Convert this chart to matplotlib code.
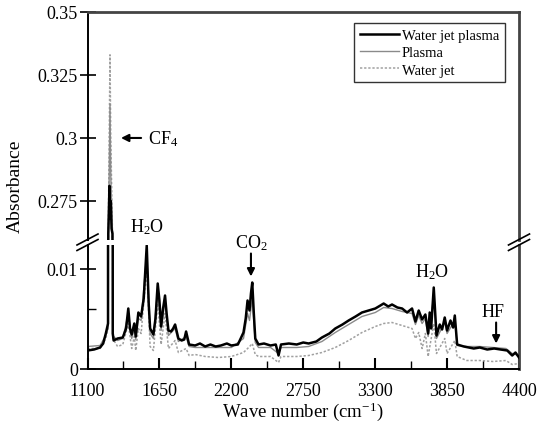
import matplotlib
matplotlib.use("Agg")
import matplotlib.pyplot as plt
from matplotlib.lines import Line2D

plt.rcParams['font.family'] = ['Liberation Serif', 'DejaVu Serif']
plt.rcParams['mathtext.fontset'] = 'custom'
plt.rcParams['mathtext.rm'] = 'Liberation Serif'
plt.rcParams['mathtext.it'] = 'Liberation Serif:italic'

# Water jet plasma (black)
wn_wjp = [1100, 1150, 1196, 1220, 1240, 1252, 1257, 1259, 1263, 1268, 1272, 1278, 1284, 1291,
          1293, 1300, 1330, 1370, 1395, 1412, 1425, 1438, 1458, 1469, 1489, 1510, 1530, 1553,
          1568, 1579, 1604, 1620, 1637, 1650, 1663, 1678, 1693, 1705, 1719, 1739, 1755, 1770,
          1795, 1820, 1840, 1854, 1877, 1923, 1960, 2000, 2040, 2080, 2120, 2166, 2200, 2250,
          2293, 2310, 2324, 2339, 2350, 2360, 2372, 2383, 2408, 2450, 2500, 2540, 2561, 2580,
          2640, 2700, 2750, 2791, 2850, 2893, 2950, 2995, 3050, 3097, 3150, 3199, 3250, 3301,
          3340, 3365, 3400, 3429, 3470, 3506, 3544, 3582, 3608, 3633, 3659, 3684, 3705, 3717,
          3728, 3748, 3769, 3794, 3812, 3832, 3850, 3876, 3896, 3909, 3927, 3978, 4054, 4100,
          4157, 4210, 4259, 4310, 4348, 4373, 4400]
abs_wjp = [0.0018, 0.0019, 0.0021, 0.0025, 0.0035, 0.0042, 0.0045, 0.262, 0.270, 0.281, 0.268, 0.275, 0.264, 0.262,
           0.0035, 0.0028, 0.0030, 0.0031, 0.0040, 0.0060, 0.0040, 0.0034, 0.0045, 0.0032, 0.0056, 0.0052, 0.0070, 0.0123,
           0.0065, 0.0040, 0.0034, 0.0050, 0.0085, 0.0068, 0.0042, 0.0060, 0.0073, 0.0055, 0.0038, 0.0037, 0.0040, 0.0044,
           0.0030, 0.0028, 0.0029, 0.0037, 0.0024, 0.0023, 0.0025, 0.0022, 0.0024, 0.0022, 0.0023, 0.0025, 0.0023, 0.0024,
           0.0036, 0.0050, 0.0068, 0.0058, 0.0075, 0.0086, 0.0055, 0.0030, 0.0024, 0.0025, 0.0023, 0.0024, 0.0013, 0.0024,
           0.0025, 0.0024, 0.0026, 0.0025, 0.0027, 0.0031, 0.0035, 0.0040, 0.0044, 0.0048, 0.0052, 0.0056, 0.0058, 0.0060,
           0.0063, 0.0065, 0.0062, 0.0064, 0.0061, 0.0060, 0.0056, 0.0060, 0.0047, 0.0058, 0.0049, 0.0054, 0.0035, 0.0056,
           0.0040, 0.0081, 0.0033, 0.0044, 0.0039, 0.0051, 0.0038, 0.0048, 0.0041, 0.0053, 0.0024, 0.0022, 0.0020, 0.0021,
           0.0019, 0.0020, 0.0019, 0.0018, 0.0013, 0.0016, 0.0011]

# Plasma (grey)
wn_pl = [1100, 1196, 1240, 1257, 1259, 1266, 1272, 1278, 1291, 1293, 1330, 1370, 1412, 1438, 1458,
         1469, 1489, 1510, 1553, 1579, 1604, 1637, 1663, 1693, 1719, 1770, 1795, 1854, 1877, 1923,
         2000, 2100, 2200, 2293, 2324, 2339, 2360, 2383, 2408, 2500, 2561, 2580, 2700, 2791, 2893,
         2995, 3097, 3199, 3301, 3365, 3429, 3506, 3582, 3608, 3633, 3659, 3684, 3705, 3748, 3769,
         3832, 3850, 3909, 3927, 4000, 4100, 4200, 4300, 4348, 4400]
abs_pl = [0.0022, 0.0023, 0.0033, 0.0040, 0.262, 0.285, 0.3135, 0.285, 0.262, 0.0033, 0.0028, 0.0030, 0.0055, 0.0030, 0.0040,
          0.0029, 0.0050, 0.0048, 0.0115, 0.0035, 0.0030, 0.0080, 0.0038, 0.0068, 0.0033, 0.0040, 0.0027, 0.0032, 0.0022, 0.0021,
          0.0021, 0.0021, 0.0021, 0.0030, 0.0055, 0.0048, 0.0070, 0.0026, 0.0021, 0.0021, 0.0015, 0.0021, 0.0021, 0.0022, 0.0027,
          0.0036, 0.0044, 0.0052, 0.0056, 0.0061, 0.0060, 0.0057, 0.0055, 0.0044, 0.0053, 0.0045, 0.0050, 0.0032, 0.0072, 0.0030,
          0.0046, 0.0035, 0.0048, 0.0023, 0.0022, 0.0022, 0.0021, 0.0020, 0.0015, 0.0013]

# Water jet (dotted)
wn_wj = [1100, 1196, 1240, 1257, 1259, 1266, 1272, 1278, 1291, 1293, 1330, 1370, 1412, 1438, 1458,
         1469, 1489, 1510, 1553, 1579, 1604, 1637, 1663, 1693, 1719, 1770, 1795, 1854, 1877, 1923,
         2000, 2100, 2200, 2293, 2340, 2360, 2383, 2408, 2500, 2561, 2580, 2700, 2791, 2893, 2995,
         3097, 3199, 3301, 3365, 3429, 3506, 3582, 3608, 3633, 3659, 3684, 3705, 3748, 3769, 3832,
         3850, 3909, 3927, 4000, 4100, 4200, 4300, 4348, 4400]
abs_wj = [0.0020, 0.0020, 0.0030, 0.0040, 0.262, 0.300, 0.333, 0.300, 0.262, 0.0030, 0.0022, 0.0024, 0.0045, 0.0020, 0.0032,
          0.0018, 0.0040, 0.0035, 0.0100, 0.0022, 0.0018, 0.0065, 0.0024, 0.0055, 0.0020, 0.0028, 0.0016, 0.0020, 0.0013, 0.0014,
          0.0012, 0.0011, 0.0012, 0.0016, 0.0022, 0.0025, 0.0014, 0.0012, 0.0012, 0.0006, 0.0012, 0.0012, 0.0013, 0.0016, 0.0021,
          0.0028, 0.0036, 0.0042, 0.0045, 0.0046, 0.0043, 0.0040, 0.0030, 0.0036, 0.0020, 0.0035, 0.0012, 0.0045, 0.0015, 0.0030,
          0.0015, 0.0028, 0.0012, 0.0008, 0.0008, 0.0007, 0.0008, 0.0004, 0.0005]

x_ticks = [1100, 1650, 2200, 2750, 3300, 3850, 4400]
x_minor = [1375, 1925, 2475, 3025, 3575, 4125]
top_ticks = [0.275, 0.3, 0.325, 0.35]
bottom_ticks = [0, 0.01]

W, H = 537, 431
fig = plt.figure(figsize=(W / 100, H / 100), dpi=100)


def fx(px):
    return px / W


def fy(py):
    return 1 - py / H


left, right = 87.5, 519
ax_top = fig.add_axes([fx(left), fy(240.5), fx(right - left), (240.5 - 13) / H])
ax_bot = fig.add_axes([fx(left), fy(369.5), fx(right - left), (369.5 - 246) / H])

for ax in (ax_top, ax_bot):
    ax.plot(wn_wjp, abs_wjp, color='black', lw=1.8, label='Water jet plasma', zorder=3)
    ax.plot(wn_pl, abs_pl, color='#8a8a8a', lw=1.0, label='Plasma', zorder=2)
    ax.plot(wn_wj, abs_wj, color='#a0a0a0', lw=1.1, ls=(0, (1.5, 1.2)), label='Water jet', zorder=1)
    ax.set_xlim(1100, 4400)
    for s in ax.spines.values():
        s.set_linewidth(1.4)
    ax.spines['right'].set_color('#444444')
    ax.spines['right'].set_linewidth(2)
    ax.tick_params(axis='y', direction='inout', length=12, width=1.2, labelsize=13, pad=1)

ax_top.set_ylim(0.2597, 0.35)
ax_top.spines['bottom'].set_visible(False)
ax_top.spines['top'].set_color('#444444')
ax_top.spines['top'].set_linewidth(2)
ax_top.set_xticks([])
ax_top.set_yticks(top_ticks)
ax_top.set_yticklabels(['0.275', '0.3', '0.325', '0.35'])

ax_bot.set_ylim(0, 0.01235)
ax_bot.spines['top'].set_visible(False)
ax_bot.set_yticks(bottom_ticks)
ax_bot.set_yticklabels(['0', '0.01'])
ax_bot.set_yticks([0.006], minor=True)
ax_bot.tick_params(axis='y', which='minor', direction='in', length=6, width=1)
ax_bot.set_xticks(x_ticks)
ax_bot.set_xticks(x_minor, minor=True)
ax_bot.tick_params(axis='x', which='major', direction='in', length=8, width=1.5, labelsize=13, pad=10)
ax_bot.tick_params(axis='x', which='minor', direction='in', length=6, width=1)

# break marks
for xb in (left, right):
    for yb in (240.5, 246):
        fig.add_artist(Line2D([fx(xb - 10.5), fx(xb + 10.5)], [fy(yb + 5.5), fy(yb - 5.5)],
                              color='black', lw=1.2))

leg = ax_top.legend(loc='upper right', bbox_to_anchor=(0.968, 0.952), fontsize=10.5,
                    frameon=True, fancybox=False, edgecolor='black', handlelength=2.7,
                    handletextpad=0.2, labelspacing=0.28, borderpad=0.4, borderaxespad=0)
leg.get_frame().set_linewidth(1.0)

# annotations
arrow = dict(arrowstyle='-|>', color='black', lw=1.5, mutation_scale=11, shrinkA=0, shrinkB=0)
ax_top.annotate('', xy=(1356, 0.3), xytext=(1510, 0.3), arrowprops=arrow)
ax_top.text(1563, 0.3, 'CF$_4$', fontsize=13, va='center', ha='left')

ax_bot.text(1555, 0.0142, 'H$_2$O', fontsize=13, ha='center', va='center', clip_on=False)
ax_bot.text(2350, 0.01265, 'CO$_2$', fontsize=13, ha='center', va='center', clip_on=False)
ax_bot.annotate('', xy=(2350, 0.0092), xytext=(2350, 0.0115), annotation_clip=False, arrowprops=arrow)
ax_bot.text(3732, 0.00975, 'H$_2$O', fontsize=13, ha='center', va='center')
ax_bot.text(4205, 0.0057, 'HF', fontsize=13, ha='center', va='center')
ax_bot.annotate('', xy=(4225, 0.0025), xytext=(4225, 0.0046), arrowprops=arrow)

fig.text(fx(15), fy(186), 'Absorbance', rotation=90, fontsize=14, ha='center', va='center')
fig.text(fx(303), fy(412), 'Wave number (cm$^{-1}$)', fontsize=13.5, ha='center', va='center')

fig.savefig('out.png', dpi=100)
